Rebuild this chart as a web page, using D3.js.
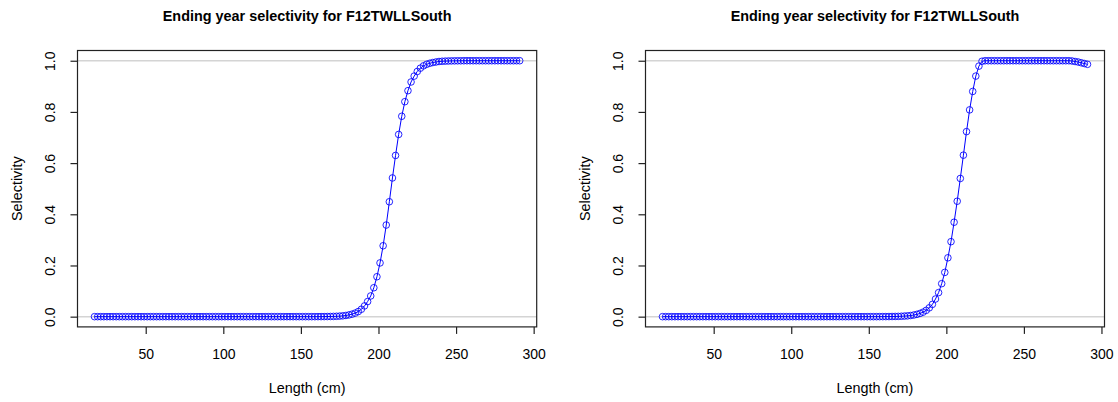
<!DOCTYPE html>
<html>
<head>
<meta charset="utf-8">
<script src="https://cdn.jsdelivr.net/npm/d3@7"></script>
<style>
  html, body { margin: 0; padding: 0; background: #fff; }
  svg { display: block; }
  text { font-family: "Liberation Sans", Arial, Helvetica, sans-serif; fill: #000; }
</style>
</head>
<body>
<div id="chart"></div>
<script>
// ---------------- data ----------------
const chartTitle = "Ending year selectivity for F12TWLLSouth";
const xLabel = "Length (cm)";
const yLabel = "Selectivity";

const lengths = [
  17,19,21,23,25,27,29,31,33,35,
  37,39,41,43,45,47,49,51,53,55,
  57,59,61,63,65,67,69,71,73,75,
  77,79,81,83,85,87,89,91,93,95,
  97,99,101,103,105,107,109,111,113,115,
  117,119,121,123,125,127,129,131,133,135,
  137,139,141,143,145,147,149,151,153,155,
  157,159,161,163,165,167,169,171,173,175,
  177,179,181,183,185,187,189,191,193,195,
  197,199,201,203,205,207,209,211,213,215,
  217,219,221,223,225,227,229,231,233,235,
  237,239,241,243,245,247,249,251,253,255,
  257,259,261,263,265,267,269,271,273,275,
  277,279,281,283,285,287,289,291
];

// Left panel selectivity
const selectivityLeft = [
  0,0,0,0,0,0,0,0,0,0,
  0,0,0,0,0,0,0,0,0,0,
  0,0,0,0,0,0,0,0,0,0,
  0,0,0,0,0,0,0,0,0,0,
  0,0,0,0,0,0,0,0,0,0,
  0,0,0,0,0,0,0,0,0,0,
  0,0,0,0,0,0,0,0,0,0,
  0,0,0.0001,0.0002,0.0003,0.0005,0.0007,0.001,0.0015,0.0022,
  0.0032,0.0047,0.0068,0.0098,0.014,0.020,0.029,0.042,0.059,0.081,
  0.113,0.156,0.210,0.277,0.358,0.449,0.542,0.630,0.712,0.783,
  0.840,0.883,0.917,0.940,0.958,0.971,0.980,0.986,0.990,0.993,
  0.995,0.997,0.998,0.9985,0.999,0.9993,0.9995,0.9997,0.9998,1,
  1,1,1,1,1,1,1,1,1,1,
  1,1,1,1,1,1,1,1
];

// Right panel selectivity
const selectivityRight = [
  0,0,0,0,0,0,0,0,0,0,
  0,0,0,0,0,0,0,0,0,0,
  0,0,0,0,0,0,0,0,0,0,
  0,0,0,0,0,0,0,0,0,0,
  0,0,0,0,0,0,0,0,0,0,
  0,0,0,0,0,0,0,0,0,0,
  0,0,0,0,0,0,0,0,0,0,
  0.0001,0.0002,0.0003,0.0004,0.0006,0.0008,0.0011,0.0016,0.0023,0.0032,
  0.0045,0.0064,0.009,0.0126,0.0176,0.0247,0.0345,0.048,0.069,0.094,
  0.129,0.173,0.230,0.293,0.369,0.451,0.540,0.631,0.723,0.808,
  0.880,0.940,0.979,0.998,1,1,1,1,1,1,
  1,1,1,1,1,1,1,1,1,1,
  1,1,1,1,1,1,1,1,1,1,
  1,1,0.999,0.997,0.995,0.992,0.989,0.986
];

const xTicks = [50, 100, 150, 200, 250, 300];
const yTicks = [0, 0.2, 0.4, 0.6, 0.8, 1.0];
const yTickLabels = ["0.0", "0.2", "0.4", "0.6", "0.8", "1.0"];
const refLines = [0, 1];

// ---------------- layout ----------------
const W = 1118, H = 402;
const panels = [
  { values: selectivityLeft,  left: 77.5,  right: 536.7 },
  { values: selectivityRight, left: 645.5, right: 1104.5 }
];
const boxTop = 50.5, boxBottom = 326.9;

const svg = d3.select("#chart").append("svg")
  .attr("width", W).attr("height", H)
  .attr("viewBox", `0 0 ${W} ${H}`);
svg.append("rect").attr("width", W).attr("height", H).attr("fill", "#fff");

const xExt = d3.extent(lengths);
const xPad = (xExt[1] - xExt[0]) * 0.04;

panels.forEach(p => {
  const x = d3.scaleLinear().domain([xExt[0] - xPad, xExt[1] + xPad]).range([p.left, p.right]);
  const y = d3.scaleLinear().domain([-0.04, 1.04]).range([boxBottom, boxTop]);
  const g = svg.append("g");

  // reference lines
  g.selectAll("line.ref").data(refLines).enter().append("line")
    .attr("class", "ref")
    .attr("x1", p.left).attr("x2", p.right)
    .attr("y1", d => y(d)).attr("y2", d => y(d))
    .attr("stroke", "#d4d4d4").attr("stroke-width", 1.5);

  const pts = lengths.map((L, i) => [L, p.values[i]]);

  // line
  g.append("path").datum(pts)
    .attr("fill", "none")
    .attr("stroke", "#0000ff")
    .attr("stroke-width", 1)
    .attr("d", d3.line().x(d => x(d[0])).y(d => y(d[1])));

  // points
  g.selectAll("circle").data(pts).enter().append("circle")
    .attr("cx", d => x(d[0])).attr("cy", d => y(d[1]))
    .attr("r", 3.3)
    .attr("fill", "none")
    .attr("stroke", "#0000ff")
    .attr("stroke-opacity", 0.85)
    .attr("stroke-width", 1);

  // box
  g.append("rect")
    .attr("x", p.left).attr("y", boxTop)
    .attr("width", p.right - p.left).attr("height", boxBottom - boxTop)
    .attr("fill", "none").attr("stroke", "#222").attr("stroke-width", 1.2);

  // x axis
  const xa = g.append("g").attr("transform", `translate(0,${boxBottom})`)
    .call(d3.axisBottom(x).tickValues(xTicks).tickSize(7).tickFormat(d3.format("d")));
  xa.select(".domain").remove();
  xa.selectAll(".tick line").attr("stroke", "#222").attr("stroke-width", 1.2);
  xa.selectAll(".tick text")
    .attr("y", 27).attr("dy", "0.35em")
    .style("font-size", "14px").attr("fill", "#111");

  // y axis
  const ya = g.append("g").attr("transform", `translate(${p.left},0)`)
    .call(d3.axisLeft(y).tickValues(yTicks).tickSize(7).tickFormat((d, i) => yTickLabels[i]));
  ya.select(".domain").remove();
  ya.selectAll(".tick line").attr("stroke", "#222").attr("stroke-width", 1.2);
  ya.selectAll(".tick text")
    .attr("transform", "rotate(-90)")
    .attr("x", 0).attr("y", -27).attr("dy", "0.35em")
    .attr("text-anchor", "middle")
    .style("font-size", "14px").attr("fill", "#111");

  const cx = (p.left + p.right) / 2;
  // title
  g.append("text")
    .attr("x", cx).attr("y", 20.5)
    .attr("text-anchor", "middle")
    .style("font-size", "14.4px").style("font-weight", "bold")
    .text(chartTitle);

  // x label
  g.append("text")
    .attr("x", cx).attr("y", 393)
    .attr("text-anchor", "middle")
    .style("font-size", "14.4px")
    .text(xLabel);

  // y label
  const cy = (boxTop + boxBottom) / 2;
  g.append("text")
    .attr("transform", `translate(${p.left - 60.6},${cy}) rotate(-90)`)
    .attr("text-anchor", "middle")
    .attr("dy", "0.35em")
    .style("font-size", "14.4px")
    .text(yLabel);
});
</script>
</body>
</html>
